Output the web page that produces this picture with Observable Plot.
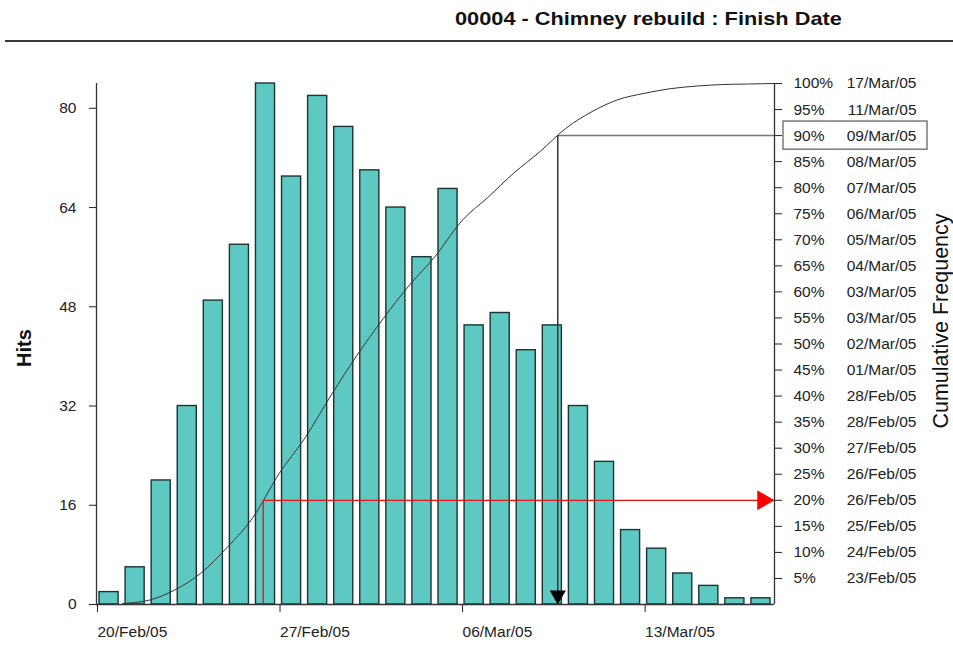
<!DOCTYPE html>
<html><head><meta charset="utf-8">
<script src="https://cdn.jsdelivr.net/npm/d3@7"></script>
<script src="https://cdn.jsdelivr.net/npm/@observablehq/plot@0.6"></script>
<style>
body{margin:0;background:#fff;font-family:"Liberation Sans",Arial,sans-serif;width:953px;height:648px;overflow:hidden;}
#title{height:40px;position:relative;border-bottom:2px solid #3a3a3a;margin-left:5px;}
#title span{position:absolute;left:450px;top:9px;font-weight:bold;font-size:19px;line-height:19px;color:#111;white-space:nowrap;transform:scaleX(1.145);transform-origin:0 50%;}
</style></head><body>
<div id="title"><span>00004 - Chimney rebuild : Finish Date</span></div>
<div id="chart"></div>
<script>
// ---- data ----
const dates = ["2005-02-20","2005-02-21","2005-02-22","2005-02-23","2005-02-24","2005-02-25","2005-02-26",
  "2005-02-27","2005-02-28","2005-03-01","2005-03-02","2005-03-03","2005-03-04","2005-03-05",
  "2005-03-06","2005-03-07","2005-03-08","2005-03-09","2005-03-10","2005-03-11","2005-03-12",
  "2005-03-13","2005-03-14","2005-03-15","2005-03-16","2005-03-17"];
const hits = [2,6,20,32,49,58,84,69,82,77,70,64,56,67,45,47,41,45,32,23,12,9,5,3,1,1];
const xTickDates = ["2005-02-20","2005-02-27","2005-03-06","2005-03-13"];
const yTicks = [0,16,32,48,64,80];
const yMax = 84;
const pctTicks = [5,10,15,20,25,30,35,40,45,50,55,60,65,70,75,80,85,90,95,100];
const pctDates = ["23/Feb/05","24/Feb/05","25/Feb/05","26/Feb/05","26/Feb/05","27/Feb/05","28/Feb/05",
  "28/Feb/05","01/Mar/05","02/Mar/05","03/Mar/05","03/Mar/05","04/Mar/05","05/Mar/05","06/Mar/05",
  "07/Mar/05","08/Mar/05","09/Mar/05","11/Mar/05","17/Mar/05"];
const boxedPct = 90;
const redPct = 20;

// ---- derived ----
const DAY = 864e5;
const parse = d3.utcParse("%Y-%m-%d");
const total = d3.sum(hits);
let run = 0;
const data = dates.map((d, i) => {
  const start = parse(d);
  run += hits[i];
  return {start, end: new Date(+start + DAY), hits: hits[i], cum: run};
});
const k = yMax / 100; // percent -> hits-scale units (right axis aligned 0..100%)
const xStart = data[0].start, xEnd = data[data.length - 1].end;
const cumPts = data.map(d => ({x: d.end, y: d.cum / total * 100 * k}));

function crossing(p) {
  const target = p / 100 * total;
  let prev = 0;
  for (const d of data) {
    if (d.cum >= target) {
      const f = (target - prev) / (d.cum - prev);
      return new Date(+d.start + f * DAY);
    }
    prev = d.cum;
  }
  return xEnd;
}
const xBox = crossing(boxedPct);
const xRed = crossing(redPct);
const fmt = d3.utcFormat("%d/%b/%y");
const FS = 15.5;

const plot = Plot.plot({
  width: 953, height: 606,
  marginLeft: 96, marginRight: 179, marginTop: 41, marginBottom: 44,
  style: {fontFamily: "'Liberation Sans', Arial, sans-serif", fontSize: FS + "px", color: "#222", background: "#fff"},
  x: {type: "utc", domain: [xStart, xEnd]},
  y: {domain: [0, yMax]},
  marks: [
    Plot.rectY(data, {x1: "start", x2: "end", y: "hits", insetLeft: 3, insetRight: 4,
      fill: "#5ec8c3", stroke: "#1c3434", strokeWidth: 1.4}),
    Plot.line(cumPts, {x: "x", y: "y", curve: "monotone-x", stroke: "#333", strokeWidth: 1}),
    // 90% marker lines
    Plot.line([{x: xEnd, y: boxedPct * k}, {x: xBox, y: boxedPct * k}], {x: "x", y: "y", stroke: "#777", strokeWidth: 1.5}),
    Plot.ruleX([xBox], {y1: boxedPct * k, y2: 0, stroke: "#333", strokeWidth: 1.5}),
    Plot.dot([xBox], {x: d => d, y: () => 0, symbol: "triangle", r: 6, rotate: 180, fill: "#000", stroke: "none", dy: -9.3}),
    // 20% marker lines
    Plot.line([{x: xRed, y: 0}, {x: xRed, y: redPct * k}, {x: xEnd, y: redPct * k}], {x: "x", y: "y", stroke: "#e11", strokeWidth: 1.3}),
    Plot.dot([xEnd], {x: d => d, y: () => redPct * k, symbol: "triangle", r: 7.4, rotate: 90, fill: "#f00", stroke: "none", dx: -11.5}),
    // axes lines
    Plot.ruleX([xStart], {y1: 0, y2: yMax, stroke: "#333", strokeWidth: 1.3}),
    Plot.ruleX([xEnd], {y1: 0, y2: yMax, stroke: "#333", strokeWidth: 1.3}),
    Plot.ruleY([0], {stroke: "#333", strokeWidth: 1.3}),
    Plot.axisY({anchor: "left", ticks: yTicks, tickSize: 7, tickPadding: 13, label: null, fontSize: FS}),
    Plot.axisX({ticks: xTickDates.map(parse), tickFormat: fmt, tickSize: 8, tickPadding: 13, textAnchor: "start", dx: 1, label: null, fontSize: FS}),
    Plot.axisY({anchor: "right", ticks: pctTicks.map(p => p * k), tickSize: 7, tickFormat: () => "", label: null}),
    Plot.text(pctTicks, {x: () => xEnd, y: p => p * k, text: p => p + "%", textAnchor: "start", dx: 19, fontSize: FS, fill: "#222"}),
    Plot.text(pctTicks, {x: () => xEnd, y: p => p * k, text: (p, i) => pctDates[i], textAnchor: "end", dx: 142, fontSize: FS, fill: "#222"}),
    Plot.rect([boxedPct], {x1: () => xEnd, x2: () => xEnd, y1: p => (p - 2.7) * k, y2: p => (p + 2.7) * k,
      insetLeft: 9, insetRight: -153, fill: "none", stroke: "#666", strokeWidth: 1.3}),
    Plot.text(["Hits"], {frameAnchor: "left", textAnchor: "middle", dx: -72, dy: 4, rotate: -90, fontSize: 20, fontWeight: "bold", fill: "#111"}),
    Plot.text(["Cumulative Frequency"], {frameAnchor: "right", textAnchor: "middle", dx: 167, dy: -23, rotate: -90, fontSize: 21.5, fill: "#111"})
  ]
});
document.getElementById("chart").appendChild(plot);
</script>
</body></html>
